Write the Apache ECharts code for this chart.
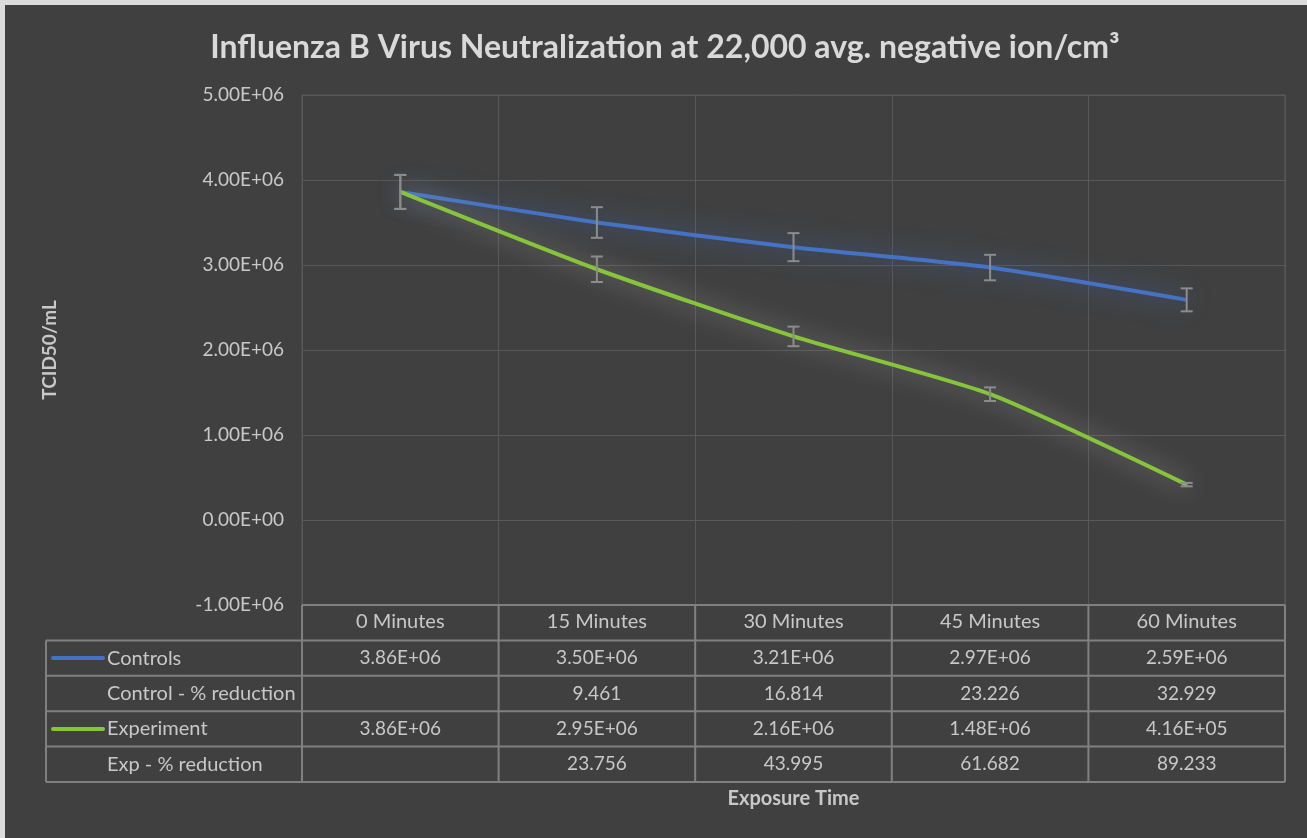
<!DOCTYPE html>
<html>
<head>
<meta charset="utf-8">
<script src="https://cdn.jsdelivr.net/npm/echarts@6/dist/echarts.min.js"></script>
<style>
html,body{margin:0;padding:0;background:#404040;}
#chart{position:absolute;left:0;top:0;width:1307px;height:838px;}
.strip{position:absolute;background:#dcdcdc;pointer-events:none;}
</style>
</head>
<body>
<div id="chart"></div>
<div class="strip" style="left:0;top:0;width:1307px;height:5px;"></div>
<div class="strip" style="left:0;top:0;width:5px;height:838px;"></div>
<script>
const categories = ['0 Minutes', '15 Minutes', '30 Minutes', '45 Minutes', '60 Minutes'];
const controls = [3.86e6, 3.50e6, 3.21e6, 2.97e6, 2.59e6];
const experiment = [3.86e6, 2.95e6, 2.16e6, 1.48e6, 4.16e5];
const controlsErr = [0.20e6, 0.18e6, 0.165e6, 0.15e6, 0.135e6];
const experimentErr = [0.20e6, 0.15e6, 0.115e6, 0.08e6, 0.02e6];
const controlReduction = ['', '9.461', '16.814', '23.226', '32.929'];
const expReduction = ['', '23.756', '43.995', '61.682', '89.233'];
const yMin = -1e6, yMax = 5e6, yStep = 1e6;

const FONT = 'Lato';
const GRID = {left: 302, right: 22, top: 95, bottom: 233};
const ROW_H = 35.4;
const TABLE_LEFT = 46;
const GRID_COLOR = '#585858';
const TABLE_COLOR = '#808080';
const TEXT_COLOR = '#c8c8c8';

function sci(v) {
  if (v === 0) return '0.00E+00';
  const s = v.toExponential(2);
  const parts = s.split('e');
  const n = parseInt(parts[1], 10);
  return parts[0] + 'E' + (n < 0 ? '-' : '+') + String(Math.abs(n)).padStart(2, '0');
}

function errData(vals, errs) {
  return vals.map((v, i) => [i, v - errs[i], v + errs[i]]);
}

function renderErr(params, api) {
  const x = api.value(0);
  const lo = api.coord([x, api.value(1)]);
  const hi = api.coord([x, api.value(2)]);
  const w = 6;
  const style = {stroke: '#8c8c8c', lineWidth: 2};
  return {
    type: 'group',
    children: [
      {type: 'line', shape: {x1: hi[0], y1: hi[1], x2: lo[0], y2: lo[1]}, style: style},
      {type: 'line', shape: {x1: hi[0] - w, y1: hi[1], x2: hi[0] + w, y2: hi[1]}, style: style},
      {type: 'line', shape: {x1: lo[0] - w, y1: lo[1], x2: lo[0] + w, y2: lo[1]}, style: style}
    ]
  };
}

const chart = echarts.init(document.getElementById('chart'), null, {renderer: 'canvas'});

const option = {
  backgroundColor: '#404040',
  animation: false,
  title: {
    text: 'Influenza B Virus Neutralization at 22,000 avg. negative ion/cm³',
    left: 660,
    top: 27,
    textAlign: 'center',
    textStyle: {color: '#d9d9d9', fontFamily: FONT, fontWeight: 'bold', fontSize: 32}
  },
  grid: {
    left: GRID.left, right: GRID.right, top: GRID.top, bottom: GRID.bottom,
    show: true, borderColor: GRID_COLOR, borderWidth: 1, backgroundColor: 'transparent'
  },
  xAxis: {
    type: 'category',
    data: categories,
    boundaryGap: true,
    axisLine: {show: false},
    axisTick: {show: false},
    axisLabel: {color: TEXT_COLOR, fontFamily: FONT, fontSize: 20, margin: 7},
    splitLine: {show: true, lineStyle: {color: GRID_COLOR, width: 1}},
    name: 'Exposure Time',
    nameLocation: 'middle',
    nameGap: 184,
    nameTextStyle: {color: TEXT_COLOR, fontFamily: FONT, fontWeight: 'bold', fontSize: 20, verticalAlign: 'top'}
  },
  yAxis: {
    type: 'value',
    min: yMin, max: yMax, interval: yStep,
    axisLine: {show: false},
    axisTick: {show: false},
    axisLabel: {color: TEXT_COLOR, fontFamily: FONT, fontSize: 19, margin: 18, formatter: sci},
    splitLine: {show: true, lineStyle: {color: GRID_COLOR, width: 1}},
    name: 'TCID50/mL',
    nameLocation: 'middle',
    nameGap: 243,
    nameTextStyle: {color: TEXT_COLOR, fontFamily: FONT, fontWeight: 'bold', fontSize: 19}
  },
  series: [
    {
      name: 'Controls', type: 'line', data: controls, smooth: 0.2, showSymbol: false, z: 3,
      lineStyle: {color: '#4472c4', width: 4, shadowBlur: 24, shadowColor: 'rgba(68,114,196,0.9)'}
    },
    {
      name: 'Experiment', type: 'line', data: experiment, smooth: 0.2, showSymbol: false, z: 3,
      lineStyle: {color: '#86c43a', width: 4, shadowBlur: 24, shadowColor: 'rgba(200,200,200,0.7)'}
    },
    {type: 'custom', name: 'Controls err', data: errData(controls, controlsErr), renderItem: renderErr, z: 4, silent: true},
    {type: 'custom', name: 'Experiment err', data: errData(experiment, experimentErr), renderItem: renderErr, z: 4, silent: true}
  ]
};
chart.setOption(option);

// ---- data table below the plot ----
function buildTable() {
  const W = chart.getWidth(), H = chart.getHeight();
  const gl = GRID.left, gr = W - GRID.right, gb = H - GRID.bottom;
  const n = categories.length;
  const bw = (gr - gl) / n;
  const rows = [
    {label: 'Controls', color: '#4472c4', cells: controls.map(sci)},
    {label: 'Control - % reduction', color: null, cells: controlReduction},
    {label: 'Experiment', color: '#86c43a', cells: experiment.map(sci)},
    {label: 'Exp - % reduction', color: null, cells: expReduction}
  ];
  const els = [];
  const ls = {stroke: TABLE_COLOR, lineWidth: 2};
  const top = gb;
  const bodyTop = top + ROW_H;
  const bottom = bodyTop + rows.length * ROW_H;
  els.push({type: 'line', shape: {x1: gl, y1: top, x2: gr, y2: top}, style: ls, z: 10});
  for (let r = 0; r <= rows.length; r++) {
    const y = bodyTop + r * ROW_H;
    els.push({type: 'line', shape: {x1: TABLE_LEFT, y1: y, x2: gr, y2: y}, style: ls, z: 10});
  }
  for (let c = 0; c <= n; c++) {
    const x = gl + c * bw;
    els.push({type: 'line', shape: {x1: x, y1: top, x2: x, y2: bottom}, style: ls, z: 10});
  }
  els.push({type: 'line', shape: {x1: TABLE_LEFT, y1: bodyTop, x2: TABLE_LEFT, y2: bottom}, style: ls, z: 10});
  rows.forEach((row, r) => {
    const cy = bodyTop + r * ROW_H + ROW_H / 2;
    if (row.color) {
      els.push({type: 'line', shape: {x1: TABLE_LEFT + 7, y1: cy, x2: TABLE_LEFT + 57, y2: cy},
        style: {stroke: row.color, lineWidth: 4, lineCap: 'round'}, z: 11});
    }
    els.push({type: 'text', x: TABLE_LEFT + 61, y: cy, z: 11,
      style: {text: row.label, fill: TEXT_COLOR, font: '20px ' + FONT, textAlign: 'left', textVerticalAlign: 'middle'}});
    row.cells.forEach((t, c) => {
      const cx = chart.convertToPixel({xAxisIndex: 0}, c);
      els.push({type: 'text', x: cx, y: cy, z: 11,
        style: {text: t, fill: TEXT_COLOR, font: '19px ' + FONT, textAlign: 'center', textVerticalAlign: 'middle'}});
    });
  });
  chart.setOption({graphic: {elements: els}});
}
buildTable();
</script>
</body>
</html>
